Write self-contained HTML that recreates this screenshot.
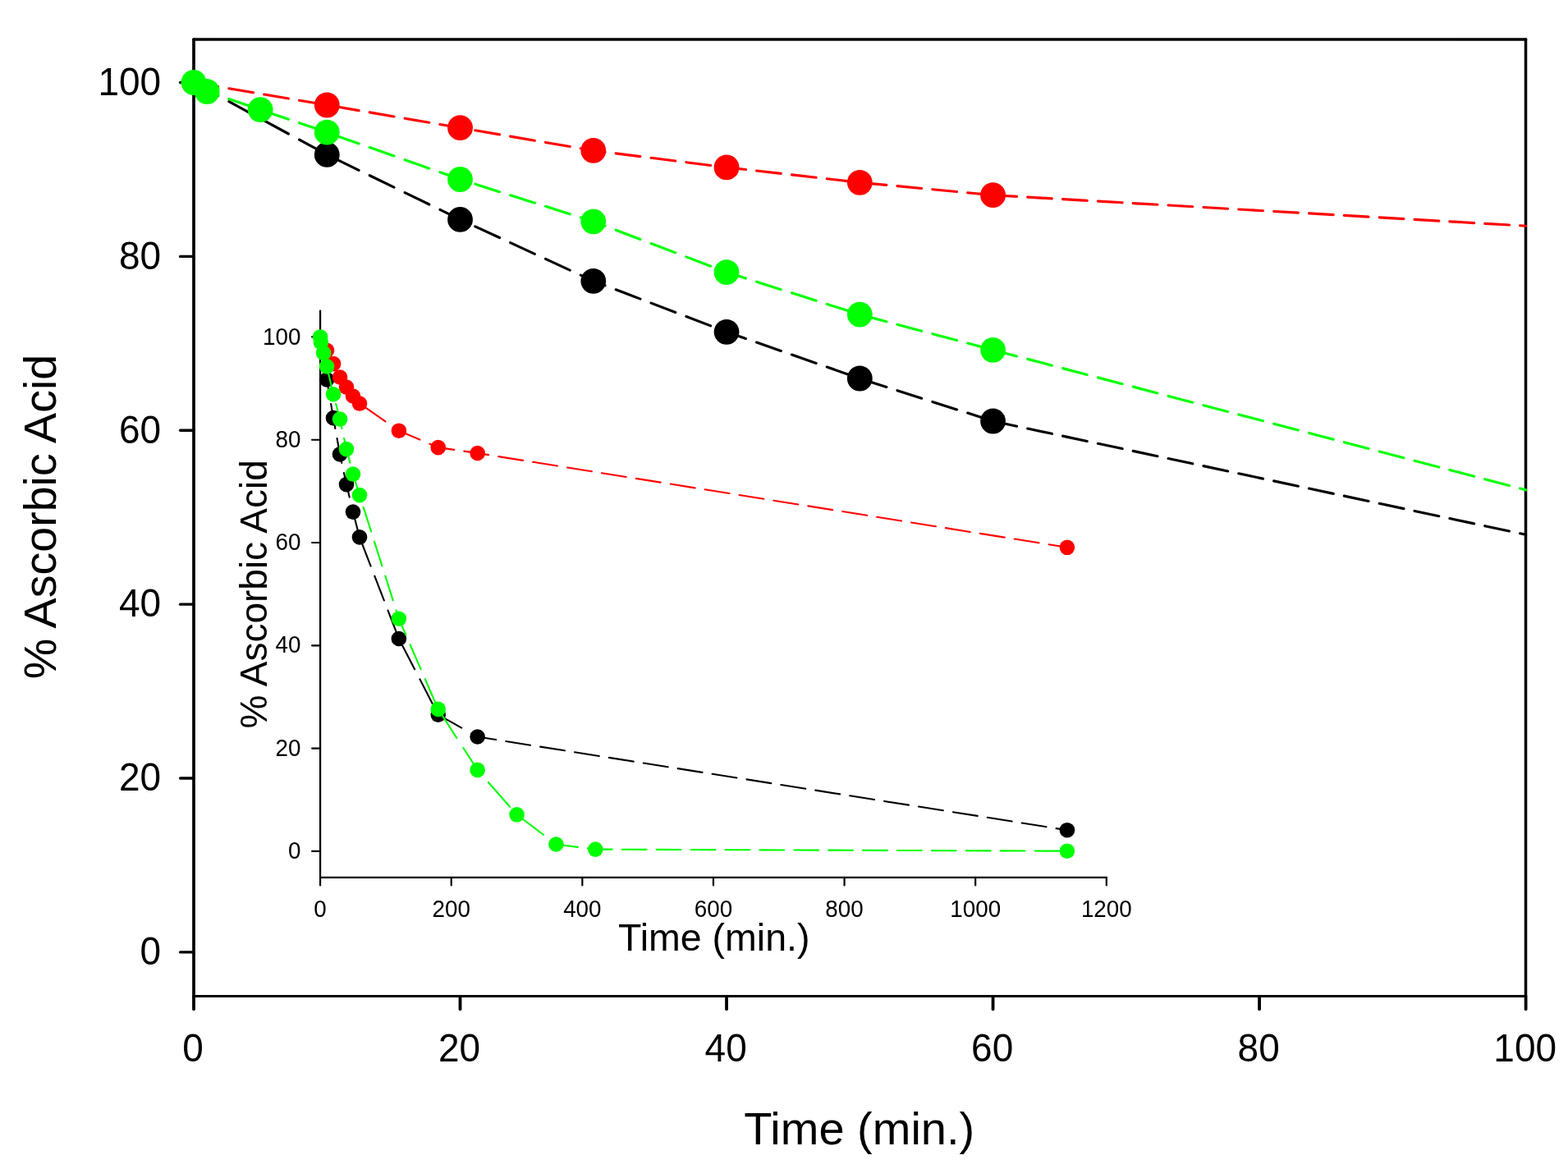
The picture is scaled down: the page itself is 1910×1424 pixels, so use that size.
<!DOCTYPE html>
<html lang="en"><head><meta charset="utf-8">
<style>html,body{margin:0;padding:0;background:#fff}body{width:1910px;height:1424px;overflow:hidden}svg{display:block}text{font-family:'Liberation Sans', sans-serif;fill:#000}</style></head><body>
<svg width="1910" height="1424" viewBox="0 0 1910 1424">
<rect x="0" y="0" width="1910" height="1424" fill="#ffffff"/>
<g stroke="#000" fill="none" stroke-linecap="round">
<line x1="236.00" y1="48.00" x2="236.00" y2="1213.50" stroke-width="3.70"/>
<line x1="1858.50" y1="48.00" x2="1858.50" y2="1213.50" stroke-width="3.50"/>
<line x1="236.00" y1="48.00" x2="1858.60" y2="48.00" stroke-width="3.60"/>
<line x1="236.00" y1="1213.50" x2="1858.60" y2="1213.50" stroke-width="3.10"/>
<line x1="219.60" y1="1159.90" x2="236.00" y2="1159.90" stroke-width="3.40"/>
<line x1="219.60" y1="948.02" x2="236.00" y2="948.02" stroke-width="3.40"/>
<line x1="219.60" y1="736.14" x2="236.00" y2="736.14" stroke-width="3.40"/>
<line x1="219.60" y1="524.26" x2="236.00" y2="524.26" stroke-width="3.40"/>
<line x1="219.60" y1="312.38" x2="236.00" y2="312.38" stroke-width="3.40"/>
<line x1="219.60" y1="100.50" x2="236.00" y2="100.50" stroke-width="3.40"/>
<line x1="236.00" y1="1214.10" x2="236.00" y2="1229.30" stroke-width="3.80"/>
<line x1="560.52" y1="1214.10" x2="560.52" y2="1229.30" stroke-width="3.80"/>
<line x1="885.04" y1="1214.10" x2="885.04" y2="1229.30" stroke-width="3.80"/>
<line x1="1209.56" y1="1214.10" x2="1209.56" y2="1229.30" stroke-width="3.80"/>
<line x1="1534.08" y1="1214.10" x2="1534.08" y2="1229.30" stroke-width="3.80"/>
<line x1="1858.60" y1="1214.10" x2="1858.60" y2="1229.30" stroke-width="3.80"/>
</g>
<text transform="translate(196.20 1175.20) scale(1.0000 1.0300)" font-size="46.00" text-anchor="end">0</text>
<text transform="translate(196.20 963.32) scale(1.0000 1.0300)" font-size="46.00" text-anchor="end">20</text>
<text transform="translate(196.20 751.44) scale(1.0000 1.0300)" font-size="46.00" text-anchor="end">40</text>
<text transform="translate(196.20 539.56) scale(1.0000 1.0300)" font-size="46.00" text-anchor="end">60</text>
<text transform="translate(196.20 327.68) scale(1.0000 1.0300)" font-size="46.00" text-anchor="end">80</text>
<text transform="translate(196.20 115.80) scale(1.0000 1.0300)" font-size="46.00" text-anchor="end">100</text>
<text transform="translate(235.10 1292.70) scale(1.0000 1.0300)" font-size="46.00" text-anchor="middle">0</text>
<text transform="translate(559.62 1292.70) scale(1.0000 1.0300)" font-size="46.00" text-anchor="middle">20</text>
<text transform="translate(884.14 1292.70) scale(1.0000 1.0300)" font-size="46.00" text-anchor="middle">40</text>
<text transform="translate(1208.66 1292.70) scale(1.0000 1.0300)" font-size="46.00" text-anchor="middle">60</text>
<text transform="translate(1533.18 1292.70) scale(1.0000 1.0300)" font-size="46.00" text-anchor="middle">80</text>
<text transform="translate(1857.70 1292.70) scale(1.0000 1.0300)" font-size="46.00" text-anchor="middle">100</text>
<text transform="translate(1046.70 1393.50) scale(1.0070 1.0000)" font-size="55.60" text-anchor="middle">Time (min.)</text>
<text transform="translate(68.00 629.50) rotate(-90) scale(1.0000 1.0000)" font-size="55.60" text-anchor="middle">% Ascorbic Acid</text>
<g stroke="#000" fill="none" stroke-linecap="round" stroke-width="2.20">
<line x1="390.10" y1="378.50" x2="390.10" y2="1068.85"/>
<line x1="390.10" y1="1068.85" x2="1347.80" y2="1068.85"/>
<line x1="380.10" y1="1036.85" x2="390.10" y2="1036.85"/>
<line x1="380.10" y1="911.57" x2="390.10" y2="911.57"/>
<line x1="380.10" y1="786.29" x2="390.10" y2="786.29"/>
<line x1="380.10" y1="661.01" x2="390.10" y2="661.01"/>
<line x1="380.10" y1="535.73" x2="390.10" y2="535.73"/>
<line x1="380.10" y1="410.45" x2="390.10" y2="410.45"/>
<line x1="390.10" y1="1068.85" x2="390.10" y2="1078.40"/>
<line x1="549.72" y1="1068.85" x2="549.72" y2="1078.40"/>
<line x1="709.33" y1="1068.85" x2="709.33" y2="1078.40"/>
<line x1="868.95" y1="1068.85" x2="868.95" y2="1078.40"/>
<line x1="1028.57" y1="1068.85" x2="1028.57" y2="1078.40"/>
<line x1="1188.18" y1="1068.85" x2="1188.18" y2="1078.40"/>
<line x1="1347.80" y1="1068.85" x2="1347.80" y2="1078.40"/>
</g>
<text transform="translate(366.40 1046.05) scale(1.0000 1.0300)" font-size="27.80" text-anchor="end">0</text>
<text transform="translate(366.40 920.77) scale(1.0000 1.0300)" font-size="27.80" text-anchor="end">20</text>
<text transform="translate(366.40 795.49) scale(1.0000 1.0300)" font-size="27.80" text-anchor="end">40</text>
<text transform="translate(366.40 670.21) scale(1.0000 1.0300)" font-size="27.80" text-anchor="end">60</text>
<text transform="translate(366.40 544.93) scale(1.0000 1.0300)" font-size="27.80" text-anchor="end">80</text>
<text transform="translate(366.40 419.65) scale(1.0000 1.0300)" font-size="27.80" text-anchor="end">100</text>
<text transform="translate(390.10 1117.00) scale(1.0000 1.0300)" font-size="27.80" text-anchor="middle">0</text>
<text transform="translate(549.72 1117.00) scale(1.0000 1.0300)" font-size="27.80" text-anchor="middle">200</text>
<text transform="translate(709.33 1117.00) scale(1.0000 1.0300)" font-size="27.80" text-anchor="middle">400</text>
<text transform="translate(868.95 1117.00) scale(1.0000 1.0300)" font-size="27.80" text-anchor="middle">600</text>
<text transform="translate(1028.57 1117.00) scale(1.0000 1.0300)" font-size="27.80" text-anchor="middle">800</text>
<text transform="translate(1188.18 1117.00) scale(1.0000 1.0300)" font-size="27.80" text-anchor="middle">1000</text>
<text transform="translate(1347.80 1117.00) scale(1.0000 1.0300)" font-size="27.80" text-anchor="middle">1200</text>
<text transform="translate(869.70 1158.30) scale(1.0120 1.0000)" font-size="46.00" text-anchor="middle">Time (min.)</text>
<text transform="translate(325.40 723.80) rotate(-90) scale(1.0000 1.0000)" font-size="46.00" text-anchor="middle">% Ascorbic Acid</text>
<path d="M236.00 100.50 L265.70 116.59 M278.85 123.71 L308.55 139.80 M321.70 146.93 L351.40 163.01 M364.55 170.14 L394.25 186.23 M407.40 192.85 L437.10 207.31 M450.25 213.71 L479.95 228.17 M493.10 234.58 L522.80 249.04 M535.95 255.44 L560.52 267.40 L565.65 269.77 M578.80 275.84 L608.50 289.55 M621.65 295.62 L651.35 309.33 M664.50 315.40 L694.20 329.11 M707.35 335.18 L722.78 342.30 L737.05 347.75 M750.20 352.78 L779.90 364.13 M793.05 369.15 L822.75 380.50 M835.90 385.52 L865.60 396.87 M878.75 401.90 L885.04 404.30 L908.45 412.48 M921.60 417.08 L951.30 427.45 M964.45 432.05 L994.15 442.43 M1007.30 447.02 L1037.00 457.40 M1050.15 461.91 L1079.85 471.43 M1093.00 475.65 L1122.70 485.16 M1135.85 489.38 L1165.55 498.90 M1178.70 503.11 L1208.40 512.63 M1209.56 513.00 L1238.56 519.18 M1251.71 521.98 L1281.41 528.31 M1294.56 531.11 L1324.26 537.44 M1337.41 540.24 L1367.11 546.57 M1380.26 549.37 L1409.96 555.70 M1423.11 558.50 L1452.81 564.83 M1465.96 567.63 L1495.66 573.96 M1508.81 576.77 L1538.51 583.09 M1551.66 585.90 L1581.36 592.22 M1594.51 595.03 L1624.21 601.36 M1637.36 604.16 L1667.06 610.49 M1680.21 613.29 L1709.91 619.62 M1723.06 622.42 L1752.76 628.75 M1765.91 631.55 L1795.61 637.88 M1808.76 640.68 L1838.46 647.01 M1851.61 649.81 L1858.60 651.30" stroke="#000000" stroke-width="3.15" stroke-linecap="round" stroke-linejoin="round" fill="none"/>
<g fill="#000000"><circle cx="236.00" cy="100.50" r="14.40"/><circle cx="398.26" cy="188.40" r="15.40"/><circle cx="560.52" cy="267.40" r="15.40"/><circle cx="722.78" cy="342.30" r="15.40"/><circle cx="885.04" cy="404.30" r="15.40"/><circle cx="1047.30" cy="461.00" r="15.40"/><circle cx="1209.56" cy="513.00" r="15.40"/></g>
<path d="M236.00 100.50 L265.70 105.53 M278.85 107.76 L308.55 112.80 M321.70 115.02 L351.40 120.06 M364.55 122.29 L394.25 127.32 M407.40 129.56 L437.10 134.63 M450.25 136.88 L479.95 141.95 M493.10 144.19 L522.80 149.26 M535.95 151.51 L560.52 155.70 L565.65 156.58 M578.80 158.82 L608.50 163.89 M621.65 166.14 L651.35 171.21 M664.50 173.45 L694.20 178.52 M707.35 180.77 L722.78 183.40 L737.05 185.20 M750.20 186.86 L779.90 190.62 M793.05 192.28 L822.75 196.03 M835.90 197.69 L865.60 201.44 M878.75 203.11 L885.04 203.90 L908.45 206.55 M921.60 208.05 L951.30 211.41 M964.45 212.90 L994.15 216.27 M1007.30 217.76 L1037.00 221.13 M1050.15 222.57 L1079.85 225.39 M1093.00 226.64 L1122.70 229.46 M1135.85 230.70 L1165.55 233.52 M1178.70 234.77 L1208.40 237.59 M1209.56 237.70 L1238.56 239.38 M1251.71 240.14 L1281.41 241.85 M1294.56 242.61 L1324.26 244.33 M1337.41 245.09 L1367.11 246.80 M1380.26 247.56 L1409.96 249.28 M1423.11 250.04 L1452.81 251.75 M1465.96 252.51 L1495.66 254.23 M1508.81 254.99 L1538.51 256.71 M1551.66 257.47 L1581.36 259.18 M1594.51 259.94 L1624.21 261.66 M1637.36 262.42 L1667.06 264.13 M1680.21 264.89 L1709.91 266.61 M1723.06 267.37 L1752.76 269.08 M1765.91 269.84 L1795.61 271.56 M1808.76 272.32 L1838.46 274.04 M1851.61 274.80 L1858.60 275.20" stroke="#ff0000" stroke-width="3.15" stroke-linecap="round" stroke-linejoin="round" fill="none"/>
<g fill="#ff0000"><circle cx="236.00" cy="100.50" r="14.40"/><circle cx="398.26" cy="128.00" r="15.40"/><circle cx="560.52" cy="155.70" r="15.40"/><circle cx="722.78" cy="183.40" r="15.40"/><circle cx="885.04" cy="203.90" r="15.40"/><circle cx="1047.30" cy="222.30" r="15.40"/><circle cx="1209.56" cy="237.70" r="15.40"/></g>
<path d="M236.00 100.50 L252.23 111.50 L265.70 116.09 M278.85 120.57 L308.55 130.68 M321.70 135.15 L351.40 145.26 M364.55 149.73 L394.25 159.84 M407.40 164.43 L437.10 174.92 M450.25 179.56 L479.95 190.05 M493.10 194.69 L522.80 205.18 M535.95 209.82 L560.52 218.50 L565.65 220.12 M578.80 224.28 L608.50 233.67 M621.65 237.83 L651.35 247.22 M664.50 251.37 L694.20 260.76 M707.35 264.92 L722.78 269.80 L737.05 275.24 M750.20 280.24 L779.90 291.56 M793.05 296.56 L822.75 307.88 M835.90 312.88 L865.60 324.20 M878.75 329.20 L885.04 331.60 L908.45 339.03 M921.60 343.20 L951.30 352.63 M964.45 356.80 L994.15 366.23 M1007.30 370.40 L1037.00 379.83 M1050.15 383.86 L1079.85 391.77 M1093.00 395.27 L1122.70 403.17 M1135.85 406.68 L1165.55 414.58 M1178.70 418.08 L1208.40 425.99 M1209.56 426.30 L1238.56 433.92 M1251.71 437.37 L1281.41 445.17 M1294.56 448.63 L1324.26 456.43 M1337.41 459.89 L1367.11 467.69 M1380.26 471.14 L1409.96 478.94 M1423.11 482.40 L1452.81 490.20 M1465.96 493.66 L1495.66 501.46 M1508.81 504.91 L1538.51 512.71 M1551.66 516.17 L1581.36 523.97 M1594.51 527.42 L1624.21 535.23 M1637.36 538.68 L1667.06 546.48 M1680.21 549.94 L1709.91 557.74 M1723.06 561.19 L1752.76 569.00 M1765.91 572.45 L1795.61 580.25 M1808.76 583.71 L1838.46 591.51 M1851.61 594.96 L1858.60 596.80" stroke="#00ff00" stroke-width="3.15" stroke-linecap="round" stroke-linejoin="round" fill="none"/>
<g fill="#00ff00"><circle cx="236.00" cy="100.50" r="15.40"/><circle cx="252.23" cy="111.50" r="15.40"/><circle cx="317.13" cy="133.60" r="15.40"/><circle cx="398.26" cy="161.20" r="15.40"/><circle cx="560.52" cy="218.50" r="15.40"/><circle cx="722.78" cy="269.80" r="15.40"/><circle cx="885.04" cy="331.60" r="15.40"/><circle cx="1047.30" cy="383.10" r="15.40"/><circle cx="1209.56" cy="426.30" r="15.40"/></g>
<path d="M390.10 410.45 L394.35 438.15 M396.21 450.25 L398.08 462.42 L401.09 480.05 M403.16 492.15 L406.06 509.13 L408.37 521.95 M410.55 534.05 L414.04 553.42 L416.31 563.85 M418.95 575.95 L422.02 590.08 L425.75 605.75 M428.63 617.85 L430.00 623.61 L436.25 647.65 M440.08 659.75 L451.62 689.55 M456.30 701.65 L467.84 731.45 M472.53 743.55 L484.07 773.35 M489.72 785.45 L505.13 815.25 M511.39 827.35 L526.80 857.15 M533.06 869.25 L533.75 870.60 L562.21 886.58 M574.30 893.38 L581.64 897.50 L604.11 901.06 M616.20 902.97 L646.00 907.69 M658.11 909.60 L687.90 914.32 M700.00 916.24 L729.80 920.95 M741.90 922.87 L771.70 927.59 M783.80 929.50 L813.61 934.22 M825.70 936.13 L855.50 940.85 M867.61 942.77 L897.40 947.48 M909.51 949.40 L939.31 954.12 M951.41 956.03 L981.21 960.75 M993.31 962.66 L1023.11 967.38 M1035.21 969.30 L1065.01 974.01 M1077.11 975.93 L1106.91 980.65 M1119.01 982.56 L1148.81 987.28 M1160.91 989.20 L1190.71 993.91 M1202.81 995.83 L1232.61 1000.55 M1244.71 1002.46 L1274.51 1007.18 M1286.61 1009.09 L1299.91 1011.20" stroke="#000000" stroke-width="2.10" stroke-linecap="round" stroke-linejoin="round" fill="none"/>
<g fill="#000000"><circle cx="390.10" cy="410.45" r="8.30"/><circle cx="398.08" cy="462.42" r="9.30"/><circle cx="406.06" cy="509.13" r="9.30"/><circle cx="414.04" cy="553.42" r="9.30"/><circle cx="422.02" cy="590.08" r="9.30"/><circle cx="430.00" cy="623.61" r="9.30"/><circle cx="437.99" cy="654.35" r="9.30"/><circle cx="485.87" cy="778.00" r="9.30"/><circle cx="533.75" cy="870.60" r="9.30"/><circle cx="581.64" cy="897.50" r="9.30"/><circle cx="1299.91" cy="1011.20" r="9.30"/></g>
<path d="M390.10 410.45 L398.08 426.71 L404.19 439.25 M410.09 451.35 L414.04 459.47 L422.02 471.59 L429.04 481.15 M439.66 492.73 L469.46 513.35 M481.56 521.72 L485.87 524.70 L511.36 535.56 M523.46 540.71 L533.75 545.10 L553.26 547.91 M565.36 549.65 L581.64 552.00 L595.16 554.16 M607.26 556.10 L637.06 560.86 M649.16 562.79 L678.96 567.55 M691.06 569.49 L720.86 574.25 M732.96 576.19 L762.76 580.95 M774.86 582.88 L804.66 587.64 M816.76 589.58 L846.56 594.34 M858.66 596.28 L888.46 601.04 M900.56 602.97 L930.36 607.74 M942.46 609.67 L972.26 614.43 M984.36 616.37 L1014.16 621.13 M1026.26 623.06 L1056.06 627.83 M1068.16 629.76 L1097.96 634.52 M1110.06 636.46 L1139.86 641.22 M1151.96 643.15 L1181.76 647.92 M1193.86 649.85 L1223.66 654.61 M1235.76 656.55 L1265.56 661.31 M1277.66 663.24 L1299.91 666.80" stroke="#ff0000" stroke-width="2.10" stroke-linecap="round" stroke-linejoin="round" fill="none"/>
<g fill="#ff0000"><circle cx="390.10" cy="410.45" r="8.30"/><circle cx="398.08" cy="426.71" r="9.30"/><circle cx="406.06" cy="443.09" r="9.30"/><circle cx="414.04" cy="459.47" r="9.30"/><circle cx="422.02" cy="471.59" r="9.30"/><circle cx="430.00" cy="482.47" r="9.30"/><circle cx="437.99" cy="491.57" r="9.30"/><circle cx="485.87" cy="524.70" r="9.30"/><circle cx="533.75" cy="545.10" r="9.30"/><circle cx="581.64" cy="552.00" r="9.30"/><circle cx="1299.91" cy="666.80" r="9.30"/></g>
<path d="M390.10 410.45 L390.90 416.95 L394.09 430.02 L396.05 438.05 M398.98 450.15 L406.00 479.95 M409.17 492.05 L414.04 510.55 L416.51 521.85 M419.15 533.95 L422.02 547.09 L426.39 563.75 M429.56 575.85 L430.00 577.55 L437.99 603.09 L438.80 605.65 M442.65 617.75 L452.12 647.55 M455.97 659.65 L465.44 689.45 M469.29 701.55 L478.76 731.35 M482.61 743.45 L485.87 753.70 L494.37 773.25 M499.62 785.35 L512.57 815.15 M517.83 827.25 L530.78 857.05 M537.15 869.15 L556.44 898.95 M564.27 911.05 L581.64 937.90 L584.24 940.85 M594.89 952.95 L621.12 982.75 M632.08 994.23 L661.88 1016.76 M673.98 1025.90 L677.41 1028.50 L703.78 1031.86 M715.88 1033.40 L725.30 1034.60 L745.68 1034.67 M757.78 1034.72 L787.58 1034.83 M799.68 1034.87 L829.48 1034.98 M841.58 1035.02 L871.38 1035.13 M883.48 1035.18 L913.28 1035.29 M925.38 1035.33 L955.18 1035.44 M967.28 1035.48 L997.08 1035.59 M1009.18 1035.64 L1038.98 1035.75 M1051.08 1035.79 L1080.88 1035.90 M1092.98 1035.94 L1122.78 1036.05 M1134.88 1036.10 L1164.68 1036.21 M1176.78 1036.25 L1206.58 1036.36 M1218.68 1036.40 L1248.48 1036.51 M1260.58 1036.56 L1290.38 1036.67" stroke="#00ff00" stroke-width="2.10" stroke-linecap="round" stroke-linejoin="round" fill="none"/>
<g fill="#00ff00"><circle cx="390.10" cy="410.45" r="9.30"/><circle cx="390.90" cy="416.95" r="9.30"/><circle cx="394.09" cy="430.02" r="9.30"/><circle cx="398.08" cy="446.34" r="9.30"/><circle cx="406.06" cy="480.22" r="9.30"/><circle cx="414.04" cy="510.55" r="9.30"/><circle cx="422.02" cy="547.09" r="9.30"/><circle cx="430.00" cy="577.55" r="9.30"/><circle cx="437.99" cy="603.09" r="9.30"/><circle cx="485.87" cy="753.70" r="9.30"/><circle cx="533.75" cy="863.90" r="9.30"/><circle cx="581.64" cy="937.90" r="9.30"/><circle cx="629.53" cy="992.30" r="9.30"/><circle cx="677.41" cy="1028.50" r="9.30"/><circle cx="725.30" cy="1034.60" r="9.30"/><circle cx="1299.91" cy="1036.70" r="9.30"/></g>
</svg></body></html>
